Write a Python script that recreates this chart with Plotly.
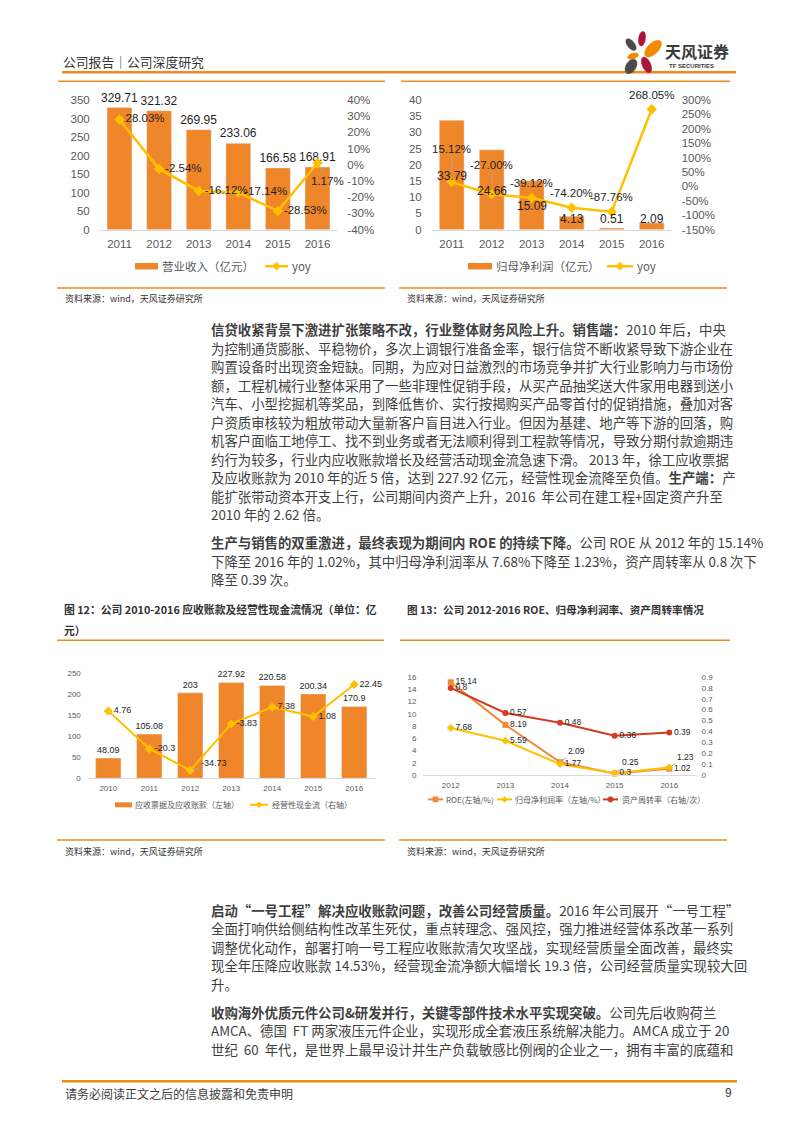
import math
import plotly.graph_objects as go

PAGE_W, PAGE_H = 794, 1123
OFF = 8                      # default body margin of the html page
W, H = PAGE_W - 2 * OFF, PAGE_H - 2 * OFF
CJK = "Noto Sans CJK SC"
NUM = "Liberation Sans, Arial, sans-serif"

# ---------------- data ----------------
years1 = [2011, 2012, 2013, 2014, 2015, 2016]
revenue = [329.71, 321.32, 269.95, 233.06, 166.58, 168.91]
revenue_yoy = [28.03, -2.54, -16.12, -17.14, -28.53, 1.17]
profit = [33.79, 24.66, 15.09, 4.13, 0.51, 2.09]
profit_yoy = [15.12, -27.00, -39.12, -74.20, -87.76, 268.05]

years3 = [2010, 2011, 2012, 2013, 2014, 2015, 2016]
receivables = [48.09, 105.08, 203, 227.92, 220.58, 200.34, 170.9]
op_cash = [4.76, -20.3, -34.73, -3.83, 7.38, 1.08, 22.45]

years4 = [2012, 2013, 2014, 2015, 2016]
roe = [15.14, 8.19, 2.09, 0.25, 1.02]
margin = [7.68, 5.59, 1.77, 0.3, 1.23]
turnover = [0.8, 0.57, 0.48, 0.36, 0.39]

c1_left_ticks = [0, 50, 100, 150, 200, 250, 300, 350]
c1_right_ticks = [-40, -30, -20, -10, 0, 10, 20, 30, 40]
c2_left_ticks = [0, 5, 10, 15, 20, 25, 30, 35, 40]
c2_right_ticks = [-150, -100, -50, 0, 50, 100, 150, 200, 250, 300]
c3_left_ticks = [0, 50, 100, 150, 200, 250]
c4_left_ticks = [0, 2, 4, 6, 8, 10, 12, 14, 16]
c4_right_ticks = [0, 0.1, 0.2, 0.3, 0.4, 0.5, 0.6, 0.7, 0.8, 0.9]

para1 = [
    "<b>信贷收紧背景下激进扩张策略不改，行业整体财务风险上升。销售端：</b>2010 年后，中央",
    "为控制通货膨胀、平稳物价，多次上调银行准备金率，银行信贷不断收紧导致下游企业在",
    "购置设备时出现资金短缺。同期，为应对日益激烈的市场竞争并扩大行业影响力与市场份",
    "额，工程机械行业整体采用了一些非理性促销手段，从买产品抽奖送大件家用电器到送小",
    "汽车、小型挖掘机等奖品，到降低售价、实行按揭购买产品零首付的促销措施，叠加对客",
    "户资质审核较为粗放带动大量新客户盲目进入行业。但因为基建、地产等下游的回落，购",
    "机客户面临工地停工、找不到业务或者无法顺利得到工程款等情况，导致分期付款逾期违",
    "约行为较多，行业内应收账款增长及经营活动现金流急速下滑。 2013 年，徐工应收票据",
    "及应收账款为 2010 年的近 5 倍，达到 227.92 亿元，经营性现金流降至负值。<b>生产端：</b>产",
    "能扩张带动资本开支上行，公司期间内资产上升，2016  年公司在建工程+固定资产升至",
    "2010 年的 2.62 倍。",
]
para2 = [
    "<b>生产与销售的双重激进，最终表现为期间内 ROE 的持续下降。</b>公司 ROE 从 2012 年的 15.14%",
    "下降至 2016 年的 1.02%，其中归母净利润率从 7.68%下降至 1.23%，资产周转率从 0.8 次下",
    "降至 0.39 次。",
]
para3 = [
    "<b>启动“一号工程”解决应收账款问题，改善公司经营质量。</b>2016 年公司展开“一号工程”",
    "全面打响供给侧结构性改革生死仗，重点转理念、强风控，强力推进经营体系改革一系列",
    "调整优化动作，部署打响一号工程应收账款清欠攻坚战，实现经营质量全面改善，最终实",
    "现全年压降应收账款 14.53%，经营现金流净额大幅增长 19.3 倍，公司经营质量实现较大回",
    "升。",
]
para4 = [
    "<b>收购海外优质元件公司&amp;研发并行，关键零部件技术水平实现突破。</b>公司先后收购荷兰",
    "AMCA、德国  FT 两家液压元件企业，实现形成全套液压系统解决能力。AMCA 成立于 20",
    "世纪  60  年代，是世界上最早设计并生产负载敏感比例阀的企业之一，拥有丰富的底蕴和",
]

# ---------------- colours ----------------
BAR = "#F0862A"
GOLD = "#FFC000"
ROEC = "#EE8A3A"
RED = "#D23C22"
ORANGE_LINE = "#EF8A24"
TICK = "#595959"
LBL = "#1F1F1F"
LS = 11.5   # data label size, charts 1-2


def X(px):
    return (px - OFF) / W


def Y(py):
    return 1 - (py - OFF) / H


ann, shp = [], []


def txt(x, y, s, size, color="#333333", xanchor="left", family=CJK, yanchor="middle"):
    ann.append(dict(x=X(x), y=Y(y), xref="paper", yref="paper", text=s, showarrow=False,
                    xanchor=xanchor, yanchor=yanchor, borderpad=0,
                    font=dict(size=size, color=color, family=family)))


def hline(x0, x1, y, color, width):
    shp.append(dict(type="line", xref="paper", yref="paper", x0=X(x0), x1=X(x1),
                    y0=Y(y), y1=Y(y), line=dict(color=color, width=width)))


def poly(pts, color):
    path = "M " + " L ".join(f"{X(a):.6f},{Y(b):.6f}" for a, b in pts) + " Z"
    shp.append(dict(type="path", xref="paper", yref="paper", path=path,
                    fillcolor=color, line=dict(color=color, width=0.5)))


def marker_pts(sym, cx, cy, r):
    if sym == "diamond":
        return [(cx - r, cy), (cx, cy - r), (cx + r, cy), (cx, cy + r)]
    if sym == "square":
        return [(cx - r, cy - r), (cx + r, cy - r), (cx + r, cy + r), (cx - r, cy + r)]
    return [(cx + r * math.cos(2 * math.pi * i / 20), cy + r * math.sin(2 * math.pi * i / 20))
            for i in range(20)]


def leg_bar(x0, x1, y, h, color, label, tx, size):
    shp.append(dict(type="rect", xref="paper", yref="paper", x0=X(x0), x1=X(x1),
                    y0=Y(y + h / 2), y1=Y(y - h / 2), fillcolor=color, line=dict(width=0)))
    txt(tx, y, label, size, TICK)


def leg_line(x0, x1, y, color, width, sym, r, label, tx, size):
    hline(x0, x1, y, color, width)
    poly(marker_pts(sym, (x0 + x1) / 2, y, r), color)
    txt(tx, y, label, size, TICK)


def petal(cx, cy, a, b, ang, color):
    th = math.radians(ang)
    pts = []
    for i in range(28):
        t = 2 * math.pi * i / 28
        pts.append((cx + a * math.cos(t) * math.cos(th) - b * math.sin(t) * math.sin(th),
                    cy + a * math.cos(t) * math.sin(th) + b * math.sin(t) * math.cos(th)))
    poly(pts, color)


# ---------------- axes helpers ----------------
def xax(d0, d1, years, anchor, size, standoff):
    return dict(domain=[X(d0), X(d1)], anchor=anchor, range=[years[0] - 0.5, years[-1] + 0.5],
                tickvals=years, ticktext=[str(v) for v in years], showgrid=False, zeroline=False,
                showline=True, linecolor="#D9D9D9", linewidth=1, ticks="",
                ticklabelstandoff=standoff,
                tickfont=dict(size=size, color=TICK, family=NUM), fixedrange=True)


def yax(top, bottom, rng, vals, texts, anchor, size, standoff, side="left", overlaying=None, show=True):
    d = dict(range=rng, tickvals=vals, ticktext=texts, showgrid=False, zeroline=False,
             showline=False, ticks="", side=side, anchor=anchor, showticklabels=show,
             ticklabelstandoff=standoff, tickfont=dict(size=size, color=TICK, family=NUM),
             fixedrange=True)
    if overlaying:
        d["overlaying"] = overlaying
    else:
        d["domain"] = [Y(bottom), Y(top)]
    return d


fig = go.Figure()

# ---------------- chart 1 ----------------
fig.add_trace(go.Bar(x=years1, y=revenue, xaxis="x", yaxis="y", marker_color=BAR, width=0.63,
                     text=[f"{v:g}" for v in revenue], textposition="outside", constraintext="none",
                     textfont=dict(size=12, color=LBL, family=NUM), cliponaxis=False,
                     showlegend=False))
fig.add_trace(go.Scatter(x=years1, y=revenue_yoy, xaxis="x", yaxis="y2", mode="lines+markers+text",
                         line=dict(color=GOLD, width=2.5), marker=dict(symbol="diamond", size=8, color=GOLD),
                         text=[f"{v:.2f}%" for v in revenue_yoy[:5]] + [""],
                         textposition="middle right",
                         textfont=dict(size=LS, color=LBL, family=NUM), cliponaxis=False,
                         showlegend=False))
ann.append(dict(x=years1[5], y=revenue_yoy[5], xref="x", yref="y2", text=f"{revenue_yoy[5]:.2f}%",
                showarrow=True, arrowhead=0, ax=10, ay=18, arrowcolor="#A6A6A6", arrowwidth=1,
                standoff=4, font=dict(size=LS, color=LBL, family=NUM)))

# ---------------- chart 2 ----------------
fig.add_trace(go.Bar(x=years1, y=profit, xaxis="x2", yaxis="y3", marker_color=BAR, width=0.62,
                     showlegend=False))
bar2_shift = [-56, -41, -25, -3, 9, 4]
for yr, v, s in zip(years1, profit, bar2_shift):
    ann.append(dict(x=yr, y=v, xref="x2", yref="y3", text=f"{v:.2f}", showarrow=False, yshift=s,
                    yanchor="middle", font=dict(size=12, color=LBL, family=NUM)))
fig.add_trace(go.Scatter(x=years1, y=profit_yoy, xaxis="x2", yaxis="y4", mode="lines+markers",
                         line=dict(color=GOLD, width=2.5), marker=dict(symbol="diamond", size=8, color=GOLD),
                         cliponaxis=False, showlegend=False))
yoy2_shift = [33, 29, 15, 15, 15, 14]
for i, (yr, v, s) in enumerate(zip(years1, profit_yoy, yoy2_shift)):
    if i < 2:
        ann.append(dict(x=yr, y=v, xref="x2", yref="y4", text=f"{v:.2f}%", showarrow=True,
                        arrowhead=0, ax=0, ay=-s, arrowcolor="#A6A6A6", arrowwidth=1, standoff=10,
                        font=dict(size=LS, color=LBL, family=NUM)))
    else:
        ann.append(dict(x=yr, y=v, xref="x2", yref="y4", text=f"{v:.2f}%", showarrow=False,
                        yshift=s, yanchor="middle", font=dict(size=LS, color=LBL, family=NUM)))

# ---------------- chart 3 ----------------
fig.add_trace(go.Bar(x=years3, y=receivables, xaxis="x3", yaxis="y5", marker_color=BAR, width=0.62,
                     text=[f"{v:g}" for v in receivables], textposition="outside", constraintext="none",
                     textfont=dict(size=9, color="#262626", family=NUM), cliponaxis=False,
                     showlegend=False))
fig.add_trace(go.Scatter(x=years3, y=op_cash, xaxis="x3", yaxis="y6", mode="lines+markers+text",
                         line=dict(color=GOLD, width=2), marker=dict(symbol="diamond", size=7, color=GOLD),
                         text=[f"{v:g}" if i != 2 else "" for i, v in enumerate(op_cash)],
                         textposition="middle right",
                         textfont=dict(size=9, color="#262626", family=NUM), cliponaxis=False,
                         showlegend=False))
ann.append(dict(x=years3[2], y=op_cash[2], xref="x3", yref="y6", text=f"{op_cash[2]:g}",
                showarrow=True, arrowhead=0, ax=24, ay=-7, arrowcolor="#A6A6A6", arrowwidth=1,
                standoff=3, font=dict(size=9, color="#262626", family=NUM)))

# ---------------- chart 4 ----------------
lead4_roe = [False, False, True, True, False]
lead4_mar = [False, False, False, False, True]
fig.add_trace(go.Scatter(x=years4, y=roe, xaxis="x4", yaxis="y7", mode="lines+markers+text",
                         line=dict(color=ROEC, width=2), marker=dict(symbol="square", size=6, color=ROEC),
                         text=["" if l else f"{v:g}" for v, l in zip(roe, lead4_roe)],
                         textposition="middle right",
                         textfont=dict(size=8.5, color="#262626", family=NUM), cliponaxis=False,
                         showlegend=False))
fig.add_trace(go.Scatter(x=years4, y=margin, xaxis="x4", yaxis="y7", mode="lines+markers+text",
                         line=dict(color=GOLD, width=2), marker=dict(symbol="diamond", size=6, color=GOLD),
                         text=["" if l else f"{v:g}" for v, l in zip(margin, lead4_mar)],
                         textposition="middle right",
                         textfont=dict(size=8.5, color="#262626", family=NUM), cliponaxis=False,
                         showlegend=False))
fig.add_trace(go.Scatter(x=years4, y=turnover, xaxis="x4", yaxis="y8", mode="lines+markers+text",
                         line=dict(color=RED, width=2), marker=dict(symbol="circle", size=6, color=RED),
                         text=[f"{v:g}" for v in turnover], textposition="middle right",
                         textfont=dict(size=8.5, color="#262626", family=NUM), cliponaxis=False,
                         showlegend=False))
for yr, v, l in zip(years4, roe, lead4_roe):
    if l:
        ann.append(dict(x=yr, y=v, xref="x4", yref="y7", text=f"{v:g}", showarrow=True, arrowhead=0,
                        ax=16, ay=-11, arrowcolor="#A6A6A6", arrowwidth=1, standoff=3,
                        font=dict(size=8.5, color="#262626", family=NUM)))
for yr, v, l in zip(years4, margin, lead4_mar):
    if l:
        ann.append(dict(x=yr, y=v, xref="x4", yref="y7", text=f"{v:g}", showarrow=True, arrowhead=0,
                        ax=16, ay=-10, arrowcolor="#A6A6A6", arrowwidth=1, standoff=3,
                        font=dict(size=8.5, color="#262626", family=NUM)))

# ---------------- layout axes ----------------
layout_axes = dict(
    xaxis=xax(99.7, 337.3, years1, "y", 11.5, 4),
    yaxis=yax(95, 226, [0, 350], c1_left_ticks, [str(v) for v in c1_left_ticks], "x", 11.5, 9),
    yaxis2=yax(95, 226, [-40, 40], c1_right_ticks, [f"{v}%" for v in c1_right_ticks], "x", 11.5, 9,
               side="right", overlaying="y"),
    xaxis2=xax(431.7, 671.7, years1, "y3", 11.5, 4),
    yaxis3=yax(95, 226, [0, 40], c2_left_ticks, [str(v) for v in c2_left_ticks], "x2", 11.5, 9),
    yaxis4=yax(95, 226, [-150, 300], c2_right_ticks, [f"{v}%" for v in c2_right_ticks], "x2", 11.5, 9,
               side="right", overlaying="y3"),
    xaxis3=xax(87.8, 374.7, years3, "y5", 8, 2),
    yaxis5=yax(674.3, 780.7, [0, 250], c3_left_ticks, [str(v) for v in c3_left_ticks], "x3", 8, 6),
    yaxis6=yax(674.3, 780.7, [-40, 30], [], [], "x3", 8, 6, side="right", overlaying="y5", show=False),
    xaxis4=xax(423.4, 696.6, years4, "y7", 8, 2),
    yaxis7=yax(678.3, 777.3, [0, 16], c4_left_ticks, [str(v) for v in c4_left_ticks], "x4", 8, 6),
    yaxis8=yax(678.3, 777.3, [0, 0.9], c4_right_ticks, [f"{v:g}" for v in c4_right_ticks], "x4", 8, 4,
               side="right", overlaying="y7"),
)

# ---------------- page furniture ----------------
txt(62, 56, "公司报告｜公司深度研究", 12.8, "#333333")
hline(62, 736, 67, ORANGE_LINE, 2.5)
# logo
petal(631, 39, 7, 3.6, 52, "#4A4A4A")
petal(642, 33, 7.5, 3.4, 98, "#A8173A")
petal(653, 43, 10.5, 5.5, -45, "#F08A00")
petal(633, 50.5, 5.5, 2.8, -18, "#F08A00")
petal(631, 61, 8, 5, -58, "#4A4A4A")
petal(646.5, 59.5, 8.5, 4.2, 66, "#A8173A")
txt(664, 45.5, "<b>天风证券</b>", 16, "#3A3A3A")
txt(668, 61, "<b>TF SECURITIES</b>", 6, "#3A3A3A", family=NUM)

# chart frames
hline(58, 385, 76, ORANGE_LINE, 1.5)
hline(401, 730, 76, ORANGE_LINE, 1.5)
hline(57, 385, 285, ORANGE_LINE, 1.5)
hline(399, 727, 285, ORANGE_LINE, 1.5)
txt(64, 296, "资料来源：wind，天风证券研究所", 9, "#333333")
txt(406, 296, "资料来源：wind，天风证券研究所", 9, "#333333")

# legends charts 1,2
leg_bar(135, 158, 263, 6.5, BAR, "营业收入（亿元）", 161, 11.5)
leg_line(265, 288, 263, GOLD, 2.5, "diamond", 4, "yoy", 291, 11.5)
leg_bar(468, 492, 263, 6.5, BAR, "归母净利润（亿元）", 495, 11.5)
leg_line(607, 633, 263, GOLD, 2.5, "diamond", 4, "yoy", 636, 11.5)

# titles charts 3,4
txt(63, 610, "<b>图 12：公司 2010-2016 应收账款及经营性现金流情况（单位：亿</b>", 10.8, "#333333")
txt(63, 631, "<b>元）</b>", 10.8, "#333333")
txt(406, 610, "<b>图 13：公司 2012-2016 ROE、归母净利润率、资产周转率情况</b>", 10.6, "#333333")
hline(57, 384, 641, ORANGE_LINE, 1.5)
hline(400, 730, 641, ORANGE_LINE, 1.5)

# legends charts 3,4
leg_bar(115, 132, 807.5, 5, BAR, "应收票据及应收账款（左轴）", 134, 8)
leg_line(250, 268, 807.5, GOLD, 2, "diamond", 3, "经营性现金流（右轴）", 271, 8)
leg_line(428, 443, 802, ROEC, 2, "square", 2.6, "ROE(左轴/%)", 445, 8)
leg_line(497, 512, 802, GOLD, 2, "diamond", 3, "归母净利润率（左轴/%）", 514, 8)
leg_line(603, 618, 802, RED, 2, "circle", 2.8, "资产周转率（右轴/次）", 621, 8)

hline(57, 385, 843, ORANGE_LINE, 1.5)
hline(399, 727, 843, ORANGE_LINE, 1.5)
txt(64, 855, "资料来源：wind，天风证券研究所", 9, "#333333")
txt(406, 855, "资料来源：wind，天风证券研究所", 9, "#333333")

# body text
BODY = "#3F3F3F"
BS = 13.4
for i, s in enumerate(para1):
    txt(210, 326.7 + i * 18.7, s, BS, BODY)
for i, s in enumerate(para2):
    txt(210, 542 + i * 18.5, s, BS, BODY)
for i, s in enumerate(para3):
    txt(210, 913.5 + i * 18.8, s, BS, BODY)
for i, s in enumerate(para4):
    txt(210, 1016.5 + i * 18.8, s, BS, BODY)

# footer
hline(62, 737, 1087, "#E8900C", 2.5)
txt(64, 1099, "请务必阅读正文之后的信息披露和免责申明", 12, "#404040")
txt(733, 1099, "9", 12, "#404040", xanchor="right", family=NUM)

fig.update_layout(
    width=W, height=H, margin=dict(l=0, r=0, t=0, b=0), autosize=False,
    paper_bgcolor="white", plot_bgcolor="rgba(0,0,0,0)", showlegend=False,
    annotations=ann, shapes=shp, font=dict(family=CJK), **layout_axes,
)

fig.write_html("out.html", config={"displayModeBar": False})
